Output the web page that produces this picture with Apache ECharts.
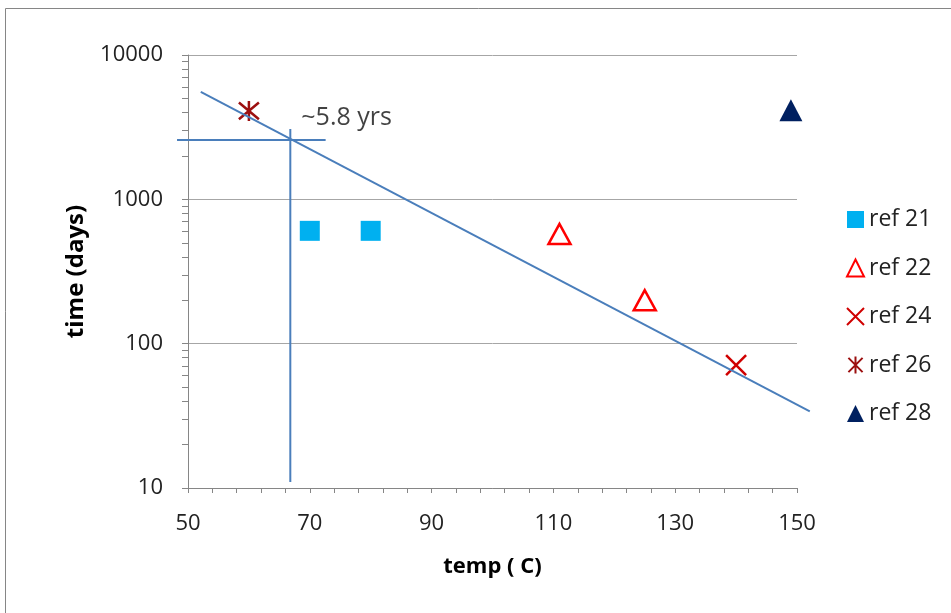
<!DOCTYPE html>
<html>
<head>
<meta charset="utf-8">
<script src="https://cdn.jsdelivr.net/npm/echarts@6/dist/echarts.min.js"></script>
<style>
  html, body { margin: 0; padding: 0; background: #fff; }
  #chart { width: 951px; height: 613px; }
</style>
</head>
<body>
<div id="chart"></div>
<script>
// Measured aging data: temperature (C) vs. time (days)
const ref21 = [[70, 605], [80, 605]];
const ref22 = [[111, 575], [125, 200]];
const ref24 = [[140, 71]];
const ref26 = [[60, 4100]];
const ref28 = [[149, 4150]];

// Line segments as [x1, y1, x2, y2]: exponential trend (straight on the log axis)
// and the guide lines reading the trend off at the lower temperature
const trendSeg = [52.1, 5550, 152.1, 34];
const guideHSeg = [48.2, 2580, 72.6, 2580];
const guideVSeg = [66.8, 3070, 66.8, 11];
const noteAt = [[66.8, 3070]];
const noteText = '~5.8 yrs';

const seriesNames = ['ref 21', 'ref 22', 'ref 24', 'ref 26', 'ref 28'];
const xTitle = 'temp ( C)';
const yTitle = 'time (days)';

const FONT = 'Open Sans';
const AXIS_GRAY = '#868686';
const TREND_BLUE = '#4A7EBB';

const xPath = 'path://M0,0L10,10M10,0L0,10';
const starPath = 'path://M0,0L10,10M10,0L0,10M5,-1L5,11';

// Straight segment between two data points, mapped through the axes
function segmentItem(params, api) {
  const p1 = api.coord([api.value(0), api.value(1)]);
  const p2 = api.coord([api.value(2), api.value(3)]);
  return {
    type: 'line',
    shape: { x1: p1[0], y1: p1[1], x2: p2[0], y2: p2[1] },
    style: { stroke: TREND_BLUE, lineWidth: 2 }
  };
}

const chart = echarts.init(document.getElementById('chart'), null, { renderer: 'canvas' });

chart.setOption({
  backgroundColor: '#fff',
  animation: false,
  textStyle: { fontFamily: FONT },
  graphic: [{
    type: 'rect',
    shape: { x: 5.5, y: 8.5, width: 960, height: 620 },
    style: { fill: 'none', stroke: AXIS_GRAY, lineWidth: 1 },
    silent: true
  }],
  grid: { left: 188, top: 55, right: 154, bottom: 125 },
  legend: {
    data: seriesNames,
    orient: 'vertical',
    left: 841,
    top: 203,
    itemWidth: 17,
    itemHeight: 17,
    itemGap: 25.5,
    textStyle: { fontFamily: FONT, fontSize: 23, color: '#222' },
    selectedMode: false
  },
  xAxis: {
    type: 'value',
    min: 50,
    max: 150,
    interval: 20,
    name: xTitle,
    nameLocation: 'middle',
    nameGap: 68,
    nameTextStyle: { fontFamily: FONT, fontSize: 22, fontWeight: 'bold', color: '#000' },
    axisLine: { show: true, lineStyle: { color: AXIS_GRAY, width: 1 } },
    axisTick: { show: true, length: 5, lineStyle: { color: AXIS_GRAY } },
    minorTick: { show: true, splitNumber: 5, length: 5, lineStyle: { color: AXIS_GRAY } },
    axisLabel: { fontFamily: FONT, fontSize: 22, color: '#222', margin: 25 },
    splitLine: { show: false }
  },
  yAxis: {
    type: 'log',
    logBase: 10,
    min: 10,
    max: 10000,
    name: yTitle,
    nameLocation: 'middle',
    nameGap: 100,
    nameRotate: 90,
    nameTextStyle: { fontFamily: FONT, fontSize: 24, fontWeight: 'bold', color: '#000' },
    axisLine: { show: true, lineStyle: { color: AXIS_GRAY, width: 1 } },
    axisTick: { show: true, length: 6, lineStyle: { color: AXIS_GRAY } },
    minorTick: { show: true, splitNumber: 9, length: 6, lineStyle: { color: AXIS_GRAY } },
    axisLabel: {
      fontFamily: FONT, fontSize: 22, color: '#222', margin: 25,
      formatter: v => String(Math.round(v))
    },
    splitLine: { show: true, lineStyle: { color: '#A6A6A6', width: 1 } }
  },
  series: [
    {
      name: 'ref 21', type: 'scatter', data: ref21,
      symbol: 'rect', symbolSize: 20,
      itemStyle: { color: '#00B0F0', opacity: 1 }, z: 3
    },
    {
      name: 'ref 22', type: 'scatter', data: ref22,
      symbol: 'triangle', symbolSize: [22, 20],
      itemStyle: { color: 'rgba(255,255,255,0)', borderColor: '#FF0000', borderWidth: 2.5, opacity: 1 }, z: 3
    },
    {
      name: 'ref 24', type: 'scatter', data: ref24,
      symbol: xPath, symbolSize: 20,
      itemStyle: { color: 'rgba(0,0,0,0)', borderColor: '#D00000', borderWidth: 2.5, opacity: 1 }, z: 3
    },
    {
      name: 'ref 26', type: 'scatter', data: ref26,
      symbol: starPath, symbolSize: 20,
      itemStyle: { color: 'rgba(0,0,0,0)', borderColor: '#9C1010', borderWidth: 2.5, opacity: 1 }, z: 3
    },
    {
      name: 'ref 28', type: 'scatter', data: ref28,
      symbol: 'triangle', symbolSize: [23, 22],
      itemStyle: { color: '#002060', opacity: 1 }, z: 3
    },
    {
      name: 'lines', type: 'custom', silent: true, clip: false, z: 4,
      data: [trendSeg, guideHSeg, guideVSeg],
      encode: { x: [0, 2], y: [1, 3] },
      renderItem: segmentItem
    },
    {
      name: 'note', type: 'scatter', data: noteAt, symbolSize: 0, silent: true,
      label: {
        show: true, position: 'right', distance: 0, offset: [11, -11],
        formatter: noteText, fontFamily: FONT, fontSize: 25, color: '#111'
      }
    }
  ]
});
</script>
</body>
</html>
